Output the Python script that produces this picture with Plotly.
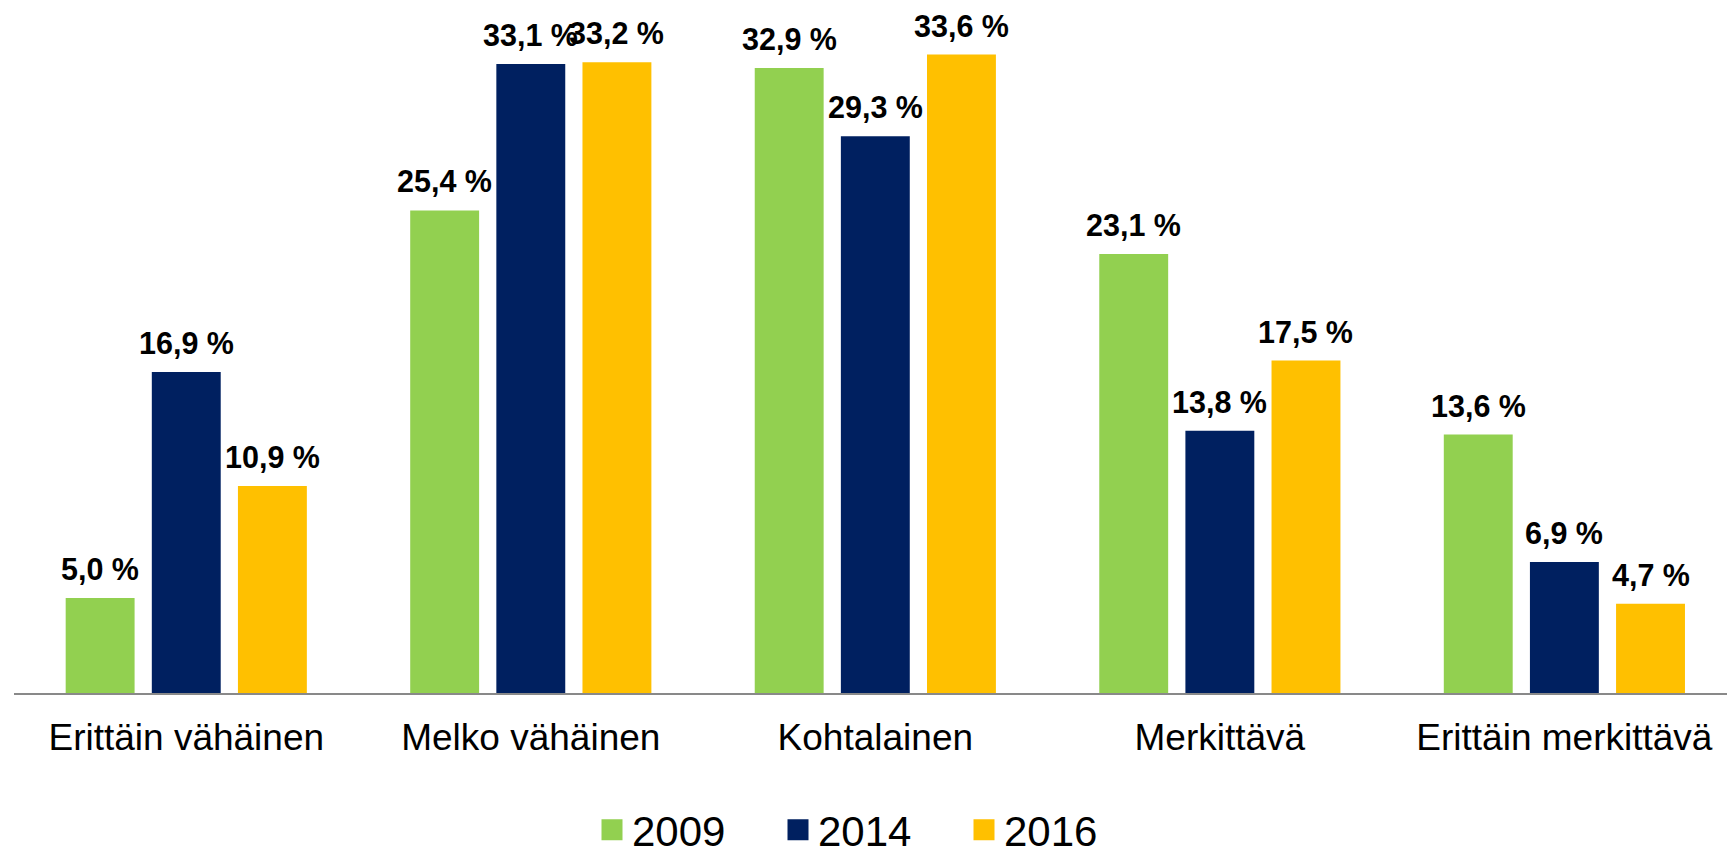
import plotly.graph_objects as go

categories = ["Erittäin vähäinen", "Melko vähäinen", "Kohtalainen", "Merkittävä", "Erittäin merkittävä"]
years = ["2009", "2014", "2016"]
v2009 = [5.0, 25.4, 32.9, 23.1, 13.6]
v2014 = [16.9, 33.1, 29.3, 13.8, 6.9]
v2016 = [10.9, 33.2, 33.6, 17.5, 4.7]
series = [v2009, v2014, v2016]
colors = ["#92D050", "#002060", "#FFC000"]

FONT = "Arial, 'Liberation Sans', sans-serif"

def fmt(v):
    return f"{v:.1f}".replace(".", ",") + " %"

fig = go.Figure()
for name, vals, col in zip(years, series, colors):
    fig.add_trace(go.Bar(x=categories, y=vals, name=name, marker=dict(color=col, line=dict(width=0)),
                         showlegend=False, hoverinfo="skip"))
for name, col in zip(years, colors):
    fig.add_trace(go.Scatter(x=[None], y=[None], name=name, mode="markers",
                             marker=dict(symbol="square", size=16, color=col, line=dict(color=col, width=5))))

annotations = []
offsets = [-0.25, 0.0, 0.25]
for j, vals in enumerate(series):
    for i, v in enumerate(vals):
        annotations.append(dict(x=i + offsets[j], y=v, xref="x", yref="y", text=fmt(v), showarrow=False,
                                yanchor="middle", xanchor="center", yshift=29,
                                font=dict(family=FONT, size=30.5, color="black", weight="bold")))

fig.update_layout(
    width=1727, height=857,
    margin=dict(l=14, r=0, t=20, b=164, autoexpand=False),
    paper_bgcolor="white", plot_bgcolor="white",
    barmode="group", bargap=0.25, bargroupgap=0.2,
    font=dict(family=FONT, color="black"),
    annotations=annotations,
    showlegend=True,
    legend=dict(orientation="h", x=(592 - 14) / 1713, xanchor="left",
                yref="container", y=1 - 830 / 857, yanchor="middle",
                font=dict(family=FONT, size=42, color="black"), entrywidth=141, entrywidthmode="pixels",
                bgcolor="rgba(0,0,0,0)"),
    xaxis=dict(range=[-0.5, 4.472], showline=True, linecolor="#898989", linewidth=2, ticks="",
               showgrid=False, zeroline=False, tickfont=dict(family=FONT, size=37, color="black"),
               ticklabelstandoff=11, automargin=False),
    yaxis=dict(range=[0, 673 / 19], visible=False, showgrid=False, zeroline=False, automargin=False),
    hovermode=False,
)

fig.write_html("out.html", config={"displayModeBar": False},
               post_script="document.body.style.margin='0px';document.body.style.overflow='hidden';")
